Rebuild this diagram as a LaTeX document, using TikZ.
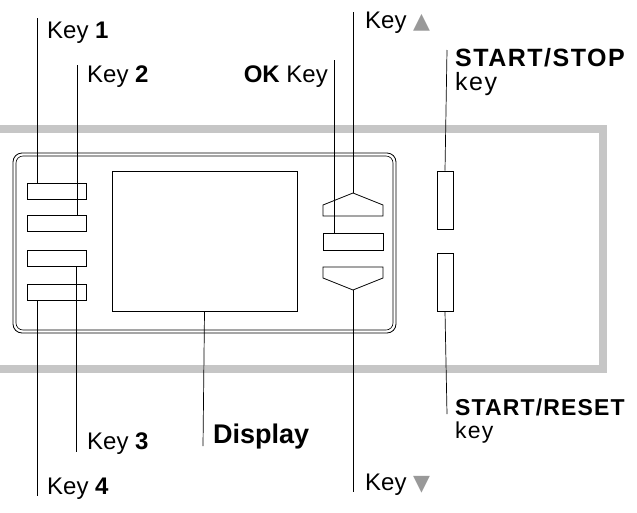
\documentclass[tikz,border=0pt]{standalone}
\usepackage{fontspec}
\setmainfont{Liberation Sans}
\newfontfamily\dejavu{DejaVu Sans}
\begin{document}
\begin{tikzpicture}[x=1pt,y=-1pt,
  key/.style={draw,line width=0.8pt,inner sep=0pt},
  lead/.style={line width=0.7pt},
  lbl/.style={anchor=base west,inner sep=0pt,font=\fontsize{24}{26}\selectfont}]
\useasboundingbox (0,0) rectangle (637,512);
% frame
\draw[line width=8pt,color=gray!45] (-10,129) -- (603,129) -- (603,369) -- (-10,369);
% inner panel
\draw[line width=0.8pt,rounded corners=9pt] (13,153) rectangle (396,333);
\draw[line width=0.6pt,rounded corners=7pt] (16,156) rectangle (393,330);
% keys
\node[key,minimum width=59pt,minimum height=16pt] (k1) at (56.5,191.5) {};
\node[key,minimum width=59pt,minimum height=16pt] (k2) at (56.5,223) {};
\node[key,minimum width=59pt,minimum height=16pt] (k3) at (56.5,258) {};
\node[key,minimum width=59pt,minimum height=16pt] (k4) at (56.5,292) {};
\node[key,minimum width=185pt,minimum height=140pt] (disp) at (204.5,241) {};
\draw[line width=0.8pt] (323,216) -- (323,205) -- (353,193) -- (383,205) -- (383,216) -- cycle;
\coordinate (up) at (353,193);
\node[key,minimum width=60pt,minimum height=17pt] (ok) at (353,241.5) {};
\draw[line width=0.8pt] (323,267) -- (383,267) -- (383,278) -- (353,290) -- (323,278) -- cycle;
\coordinate (dn) at (353,290);
\node[key,minimum width=16pt,minimum height=58pt] (ss) at (445,200) {};
\node[key,minimum width=16pt,minimum height=58pt] (sr) at (445,282) {};
% leaders
\coordinate (c1) at (37,18); \coordinate (c2) at (77,65);
\coordinate (cok) at (334,60); \coordinate (cup) at (353,12);
\coordinate (css) at (447,50); \coordinate (csr) at (447,414);
\coordinate (c3) at (76,452); \coordinate (cd) at (203,446);
\coordinate (c4) at (37,496); \coordinate (cdn) at (353,492);
\draw[lead] (c1) -- (37,183.5);
\draw[lead] (c2) -- (77,215);
\draw[lead] (cok) -- (334,233);
\draw[lead] (cup) -- (up);
\draw[lead] (css) -- (ss.north);
\draw[lead] (sr.south) -- (csr);
\draw[lead] (76,266) -- (c3);
\draw[lead] (disp.south) -- (cd);
\draw[lead] (37,300) -- (c4);
\draw[lead] (dn) -- (cdn);
% labels
\node[lbl] (l1) at (47,38) {Key \textbf{1}};
\node[lbl] (l2) at (87,82) {Key \textbf{2}};
\node[lbl,anchor=base east] (lok) at (328,82) {\textbf{OK} Key};
\node[lbl] (lup) at (365,28) {Key {\dejavu\color{gray!80}\fontsize{22}{24}\selectfont ▲}};
\node[lbl,align=left,anchor=north west,font=\fontsize{25}{24}\addfontfeatures{LetterSpace=6}\selectfont] (lss) at (455,48) {\textbf{START/STOP}\\key};
\node[lbl,align=left,anchor=north west,font=\fontsize{23}{23}\addfontfeatures{LetterSpace=5}\selectfont] (lsr) at (455,399) {\textbf{START/RESET}\\key};
\node[lbl] (l3) at (87,449) {Key \textbf{3}};
\node[lbl,font=\fontsize{27}{29}\selectfont] (ld) at (213,443) {\textbf{Display}};
\node[lbl] (l4) at (47,494) {Key \textbf{4}};
\node[lbl] (ldn) at (365,490) {Key {\dejavu\color{gray!80}\fontsize{22}{24}\selectfont ▼}};
\end{tikzpicture}
\end{document}
